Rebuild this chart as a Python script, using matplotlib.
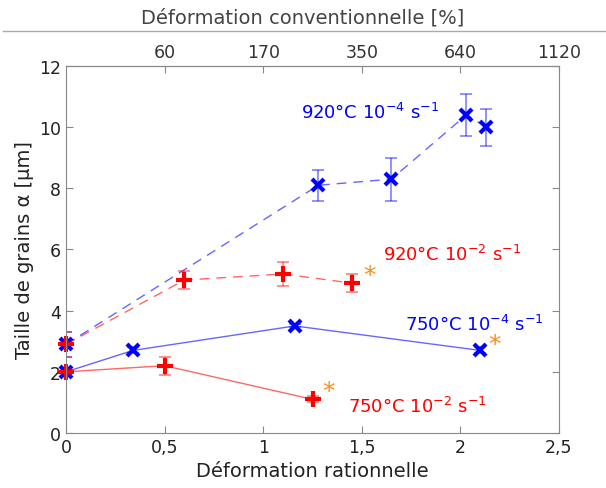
import numpy as np
import matplotlib.pyplot as plt
from matplotlib.lines import Line2D

# Data
# 920°C 1e-4 s-1 (blue, dashed)
b920_x = [0, 1.28, 1.65, 2.03, 2.13]
b920_y = [2.9, 8.1, 8.3, 10.4, 10.0]
b920_err = [0.4, 0.5, 0.7, 0.7, 0.6]
# 920°C 1e-2 s-1 (red, dashed)
r920_x = [0, 0.6, 1.1, 1.45]
r920_y = [2.9, 5.0, 5.2, 4.9]
r920_err = [0.4, 0.3, 0.4, 0.3]
# 750°C 1e-4 s-1 (blue, solid)
b750_x = [0, 0.34, 1.16, 2.1]
b750_y = [2.0, 2.7, 3.5, 2.7]
b750_err = [0.1, 0.1, 0.05, 0.1]
# 750°C 1e-2 s-1 (red, solid)
r750_x = [0, 0.5, 1.25]
r750_y = [2.0, 2.2, 1.1]
r750_err = [0.1, 0.3, 0.1]
# orange stars
star_x = [1.54, 2.175, 1.33]
star_y = [5.15, 2.9, 1.38]

top_ticks = [0.5, 1, 1.5, 2, 2.5]
top_labels = ['60', '170', '350', '640', '1120']
x_ticks = [0, 0.5, 1, 1.5, 2, 2.5]
x_labels = ['0', '0,5', '1', '1,5', '2', '2,5']

blue = '#0000ff'
red = '#ff0000'
grey = '#888888'

fig = plt.figure(figsize=(6.06, 4.89), dpi=100)
ax = fig.add_axes([0.109, 0.1125, 0.8134, 0.7505])

def series(x, y, err, marker, color, ls, ms):
    ax.plot(x, y, ls=ls, color=color, lw=1, alpha=0.6,
            dashes=(7, 5) if ls == '--' else (None, None))
    ax.errorbar(x, y, yerr=err, fmt='none', ecolor=color, elinewidth=1.2,
                capsize=4, capthick=1.2, alpha=0.5)
    ax.plot(x, y, ls='none', marker=marker, ms=ms, mew=3, color=color, clip_on=False)

series(b920_x, b920_y, b920_err, 'x', blue, '--', 8)
series(r920_x, r920_y, r920_err, '+', red, '--', 12)
series(b750_x, b750_y, b750_err, 'x', blue, '-', 8)
series(r750_x, r750_y, r750_err, '+', red, '-', 12)

for sx, sy in zip(star_x, star_y):
    ax.text(sx, sy, '*', color='#ff8c1a', fontsize=18, ha='center', va='center')

ax.text(1.19, 10.5, r'920°C 10$^{-4}$ s$^{-1}$', color=blue, fontsize=13, va='center')
ax.text(1.61, 5.85, r'920°C 10$^{-2}$ s$^{-1}$', color=red, fontsize=13, va='center')
ax.text(1.72, 3.55, r'750°C 10$^{-4}$ s$^{-1}$', color=blue, fontsize=13, va='center')
ax.text(1.43, 0.9, r'750°C 10$^{-2}$ s$^{-1}$', color=red, fontsize=13, va='center')

ax.set_xlim(0, 2.5)
ax.set_ylim(0, 12)
ax.set_xticks(x_ticks)
ax.set_xticklabels(x_labels)
ax.set_yticks(range(0, 13, 2))
ax.tick_params(direction='in', length=5, color=grey, labelsize=12.5, right=True,
               labelcolor='#222222')
for s in ax.spines.values():
    s.set_color(grey)
ax.set_xlabel('Déformation rationnelle', fontsize=14, color='#222222')
ax.set_ylabel('Taille de grains α [µm]', fontsize=14, color='#222222')

top = ax.secondary_xaxis('top')
top.set_xticks(top_ticks)
top.set_xticklabels(top_labels)
top.tick_params(direction='in', length=5, color=grey, labelsize=12.5, labelcolor='#333333')
top.spines['top'].set_color(grey)

fig.text(0.5, 0.963, 'Déformation conventionnelle [%]', fontsize=14,
         color='#444444', ha='center', va='center')
fig.add_artist(Line2D([0.005, 1.0], [0.935, 0.935], color='#aaaaaa', lw=1))

fig.savefig('out.png', dpi=100)
